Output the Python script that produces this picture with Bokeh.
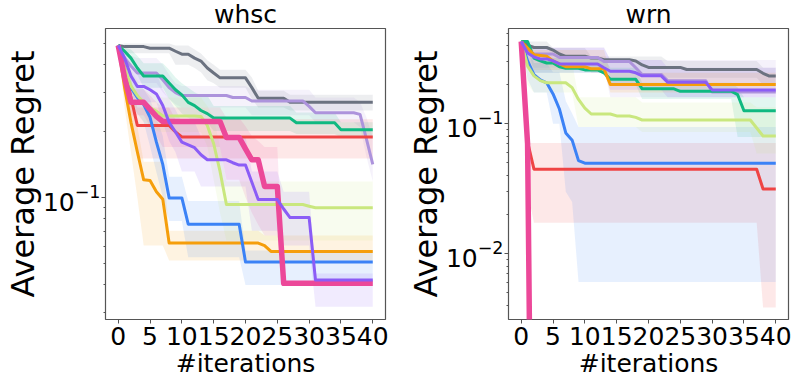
from bokeh.plotting import figure
from bokeh.models import Range1d, FixedTicker, LogTickFormatter
from bokeh.layouts import row
from bokeh.embed import file_html
from bokeh.resources import INLINE

ITERATIONS = list(range(41))
X_TICKS = [0, 5, 10, 15, 20, 25, 30, 35, 40]

# ---------------- whsc ----------------
WHSC_TICKS = [0.1]
WHSC_MINOR = [0.03, 0.04, 0.05, 0.06, 0.07, 0.08, 0.09, 0.2, 0.3, 0.4, 0.5]
WHSC_YRANGE = (0.0278, 0.585)

whsc_gray = [0.49] + [0.484]*4 + [0.476]*4 + [0.461] + [0.447]*2 + [0.429, 0.416, 0.387, 0.367] + [0.349]*5 + [0.315] + [0.282]*5 + [0.27]*14
whsc_gray_lo = [0.49] + [0.451]*8 + [0.40]*3 + [0.387, 0.37, 0.34, 0.33] + [0.315]*5 + [0.28] + [0.256]*5 + [0.248]*14
whsc_gray_hi = [0.49] + [0.50]*8 + [0.49]*3 + [0.47, 0.45, 0.42, 0.40] + [0.38]*5 + [0.35] + [0.305]*5 + [0.292]*14

whsc_lavender = [0.49, 0.429, 0.395] + [0.367]*4 + [0.342, 0.315, 0.299] + [0.29]*8 + [0.284]*3 + [0.274]*9 + [0.259] + [0.242]*7 + [0.238, 0.184, 0.141]
whsc_lavender_lo = [0.49, 0.38, 0.35] + [0.331]*4 + [0.30, 0.28, 0.265] + [0.256]*11 + [0.236]*10 + [0.219]*7 + [0.208, 0.153, 0.118]
whsc_lavender_hi = [0.49, 0.47, 0.44] + [0.43]*4 + [0.40, 0.36, 0.33] + [0.32]*11 + [0.308]*10 + [0.284]*7 + [0.27, 0.231, 0.188]

whsc_green = [0.49, 0.461, 0.429, 0.387] + [0.356]*4 + [0.331, 0.308, 0.292, 0.27, 0.261, 0.248, 0.24] + [0.229]*13 + [0.218]*7 + [0.2025]*6
whsc_green_lo = [0.49, 0.42, 0.40, 0.36] + [0.315]*4 + [0.28, 0.26, 0.24, 0.23, 0.22, 0.219, 0.219] + [0.20]*13 + [0.194]*7 + [0.188]*6
whsc_green_hi = [0.49, 0.48, 0.47, 0.44] + [0.407]*4 + [0.38, 0.35, 0.33, 0.315, 0.30, 0.29, 0.29] + [0.26]*13 + [0.243]*7 + [0.219]*6

whsc_red = [0.49, 0.387, 0.284] + [0.212]*6 + [0.198] + [0.188]*31
whsc_red_lo = [0.49, 0.33, 0.22] + [0.15]*38
whsc_red_hi = [0.49, 0.44, 0.35] + [0.256]*6 + [0.226]*32

whsc_pink = [0.49, 0.349] + [0.27]*3 + [0.251, 0.233] + [0.221]*10 + [0.187]*3 + [0.166] + [0.148]*2 + [0.112]*3 + [0.0406]*15
whsc_pink_lo = [0.49, 0.30] + [0.236]*3 + [0.21, 0.19] + [0.169]*10 + [0.12]*3 + [0.10, 0.085, 0.075] + [0.067]*3 + [0.0395]*15
whsc_pink_hi = [0.49, 0.40] + [0.31]*3 + [0.29, 0.27] + [0.256]*10 + [0.23]*3 + [0.21, 0.19, 0.18] + [0.169]*3 + [0.0412]*15

whsc_violet = [0.49, 0.429, 0.356, 0.319, 0.319, 0.308, 0.295, 0.261, 0.219, 0.198, 0.178, 0.173, 0.168, 0.156] + [0.148]*4 + [0.1435] + [0.14]*2 + [0.117] + [0.0976]*4 + [0.0884] + [0.0808]*4 + [0.042]*10
whsc_violet_lo = [0.49, 0.38, 0.315] + [0.27]*4 + [0.22, 0.18, 0.16] + [0.131]*3 + [0.112]*8 + [0.0704]*5 + [0.0603]*5 + [0.0318]*10
whsc_violet_hi = [0.49, 0.45, 0.40] + [0.367]*4 + [0.31, 0.28, 0.25] + [0.219]*3 + [0.188]*8 + [0.131]*5 + [0.106]*5 + [0.045]*10

whsc_lime = [0.49, 0.387, 0.321, 0.29, 0.27, 0.256, 0.246] + [0.234]*6 + [0.233, 0.212, 0.175, 0.131] + [0.0926]*13 + [0.091] + [0.0895]*10
whsc_lime_lo = [0.49, 0.33, 0.27, 0.24, 0.22, 0.21, 0.20] + [0.198]*6 + [0.198, 0.17, 0.12, 0.085] + [0.0635]*24
whsc_lime_hi = [0.49, 0.44, 0.38, 0.34, 0.31, 0.30, 0.29] + [0.284]*6 + [0.284, 0.26, 0.23, 0.17] + [0.118]*24

whsc_blue = [0.49, 0.367, 0.315, 0.284, 0.264, 0.231, 0.178, 0.141] + [0.0993]*3 + [0.0754]*9 + [0.0508]*21
whsc_blue_lo = [0.49, 0.30, 0.26, 0.24, 0.22, 0.17, 0.13, 0.10] + [0.078]*3 + [0.0533]*9 + [0.0399]*21
whsc_blue_hi = [0.49, 0.43, 0.37, 0.33, 0.31, 0.28, 0.23, 0.19] + [0.124]*3 + [0.096]*9 + [0.0573]*21

whsc_orange = [0.49, 0.315, 0.219, 0.161, 0.12, 0.119, 0.106, 0.098] + [0.0619]*15 + [0.0603] + [0.0567]*17
whsc_orange_lo = [0.49, 0.256, 0.16, 0.10] + [0.0603]*4 + [0.0516]*33
whsc_orange_hi = [0.49, 0.387, 0.28, 0.21] + [0.145]*4 + [0.0704]*15 + [0.0669]*18

# ---------------- wrn ----------------
WRN_TICKS = [0.01, 0.1]
WRN_MINOR = [0.004, 0.005, 0.006, 0.007, 0.008, 0.009,
             0.02, 0.03, 0.04, 0.05, 0.06, 0.07, 0.08, 0.09,
             0.2, 0.3, 0.4, 0.5]
WRN_YRANGE = (0.00311, 0.542)

wrn_gray = [0.43, 0.403] + [0.387]*3 + [0.37, 0.345] + [0.331]*4 + [0.321]*2 + [0.312]*5 + [0.305, 0.284] + [0.272]*6 + [0.262]*12 + [0.245, 0.233, 0.233]
wrn_gray_lo = [0.43] + [0.351]*4 + [0.294]*6 + [0.247]*12 + [0.226]*15 + [0.20]*3
wrn_gray_hi = [0.43] + [0.43]*4 + [0.383]*6 + [0.33]*12 + [0.305]*15 + [0.27]*3

wrn_lavender = [0.43, 0.37] + [0.345]*4 + [0.324]*7 + [0.302]*5 + [0.27] + [0.24]*4 + [0.215]*7 + [0.176]*11
wrn_lavender_lo = [0.43, 0.31] + [0.27]*12 + [0.16]*27
wrn_lavender_hi = [0.43, 0.42] + [0.39]*12 + [0.31]*27

wrn_green = [0.43, 0.43, 0.321, 0.305, 0.294, 0.294, 0.275] + [0.268]*3 + [0.26]*3 + [0.247] + [0.22]*5 + [0.186]*6 + [0.178]*9 + [0.168] + [0.126]*6
wrn_green_lo = [0.43, 0.40] + [0.247]*12 + [0.20]*5 + [0.155]*15 + [0.0792]*7
wrn_green_hi = [0.43, 0.43] + [0.321]*12 + [0.27]*5 + [0.207]*15 + [0.19] + [0.16]*6

wrn_red = [0.43, 0.0726] + [0.0447]*36 + [0.0315]*3
wrn_red_lo = [0.43, 0.03] + [0.0173]*36 + [0.00384]*3
wrn_red_hi = [0.43, 0.0712] + [0.0712]*39

wrn_pink = [0.43, 0.07] + [1e-6]*39
wrn_pink_lo = list(wrn_pink)
wrn_pink_hi = list(wrn_pink)

wrn_violet = [0.43, 0.351, 0.327, 0.316, 0.316, 0.305] + [0.289]*7 + [0.27] + [0.254]*4 + [0.247] + [0.234]*4 + [0.209]*7 + [0.1825]*11
wrn_violet_lo = [0.43, 0.30] + [0.247]*12 + [0.183]*9 + [0.16]*18
wrn_violet_hi = [0.43, 0.40] + [0.383]*12 + [0.31]*9 + [0.27]*18

wrn_lime = [0.43, 0.278, 0.234, 0.215] + [0.207]*4 + [0.19, 0.154, 0.132] + [0.119]*4 + [0.115]*3 + [0.112] + [0.107]*18 + [0.0928] + [0.0806]*3
wrn_lime_lo = [0.43, 0.2] + [0.174]*7 + [0.0944]*10 + [0.0866]*18 + [0.059]*4
wrn_lime_hi = [0.43, 0.35] + [0.294]*7 + [0.16]*10 + [0.146]*18 + [0.134]*4

wrn_blue = [0.43, 0.305, 0.239, 0.218, 0.207, 0.17, 0.13, 0.085, 0.0748, 0.052] + [0.0497]*31
wrn_blue_lo = [0.43, 0.22] + [0.174]*3 + [0.10]*2 + [0.03, 0.025] + [0.00605]*32
wrn_blue_hi = [0.43, 0.40] + [0.294]*3 + [0.25]*2 + [0.15, 0.12] + [0.0944]*32

wrn_orange = [0.43, 0.383, 0.341, 0.336, 0.331, 0.305, 0.29] + [0.275]*4 + [0.265]*3 + [0.201]*27
wrn_orange_lo = [0.43, 0.30] + [0.26]*12 + [0.174]*27
wrn_orange_hi = [0.43, 0.41] + [0.37]*12 + [0.247]*27

COLORS = {
    "gray": "#6b7280", "lavender": "#ad93dc", "green": "#10b981", "red": "#ef4444",
    "orange": "#f59e0b", "blue": "#3b82f6", "lime": "#c9e77e", "pink": "#ec4899",
    "violet": "#8b5cf6",
}
WIDTHS = {"pink": 5.5}
ORDER = ["gray", "lavender", "green", "red", "orange", "blue", "lime", "pink", "violet"]

g = globals()
WHSC = {k: (g["whsc_" + k], g["whsc_" + k + "_lo"], g["whsc_" + k + "_hi"]) for k in ORDER}
WRN = {k: (g["wrn_" + k], g["wrn_" + k + "_lo"], g["wrn_" + k + "_hi"]) for k in ORDER}
for d in (WHSC, WRN):
    for k, arrs in d.items():
        for a in arrs:
            assert len(a) == len(ITERATIONS), (k, len(a))

FONT = "DejaVu Sans"
EDGE = "#555555"


def make_panel(title, yrange, major, minor, data, border_right):
    p = figure(x_range=Range1d(-2, 42), y_range=Range1d(*yrange), y_axis_type="log",
               frame_width=280, frame_height=291,
               min_border_left=0, min_border_right=border_right,
               min_border_top=0, min_border_bottom=0,
               output_backend="svg", toolbar_location=None,
               background_fill_color="white", border_fill_color="white")
    p.title.text = title
    p.title.align = "center"
    p.title.text_font = FONT
    p.title.text_font_size = "25px"
    p.title.text_font_style = "normal"
    p.title.text_color = "black"
    p.title.standoff = -3
    p.title.vertical_align = "middle"

    p.xgrid.visible = False
    p.ygrid.visible = False
    p.outline_line_color = EDGE
    p.outline_line_width = 1.2
    p.outline_line_alpha = 1.0

    for ax in (p.xaxis[0], p.yaxis[0]):
        ax.axis_line_color = None
        ax.major_tick_line_color = EDGE
        ax.minor_tick_line_color = EDGE
        ax.major_tick_in = 0
        ax.major_tick_out = 4
        ax.minor_tick_in = 0
        ax.minor_tick_out = 2
        ax.major_label_text_font = FONT
        ax.major_label_text_font_size = "25px"
        ax.major_label_text_color = "black"
        ax.axis_label_text_font = FONT
        ax.axis_label_text_font_style = "normal"
        ax.axis_label_text_color = "black"

    xa = p.xaxis[0]
    xa.ticker = FixedTicker(ticks=X_TICKS)
    xa.minor_tick_line_color = None
    xa.axis_label = "#iterations"
    xa.axis_label_text_font_size = "25px"
    xa.major_label_standoff = 3
    xa.axis_label_standoff = 1

    ya = p.yaxis[0]
    ya.ticker = FixedTicker(ticks=major, minor_ticks=minor)
    ya.formatter = LogTickFormatter()
    ya.axis_label = "Average Regret"
    ya.axis_label_text_font_size = "32px"
    ya.major_label_standoff = 1
    ya.axis_label_standoff = -2

    for k in ORDER:
        mean, lo, hi = data[k]
        p.varea(x=ITERATIONS, y1=lo, y2=hi, fill_color=COLORS[k], fill_alpha=0.12)
    for k in ORDER:
        mean, lo, hi = data[k]
        p.line(ITERATIONS, mean, line_color=COLORS[k], line_width=WIDTHS.get(k, 3),
               line_join="round")
    return p


p1 = make_panel("whsc", WHSC_YRANGE, WHSC_TICKS, WHSC_MINOR, WHSC, 18)
p2 = make_panel("wrn", WRN_YRANGE, WRN_TICKS, WRN_MINOR, WRN, 6)

layout = row(p1, p2)
open("out.html", "w").write(file_html(layout, INLINE, "Average Regret"))
